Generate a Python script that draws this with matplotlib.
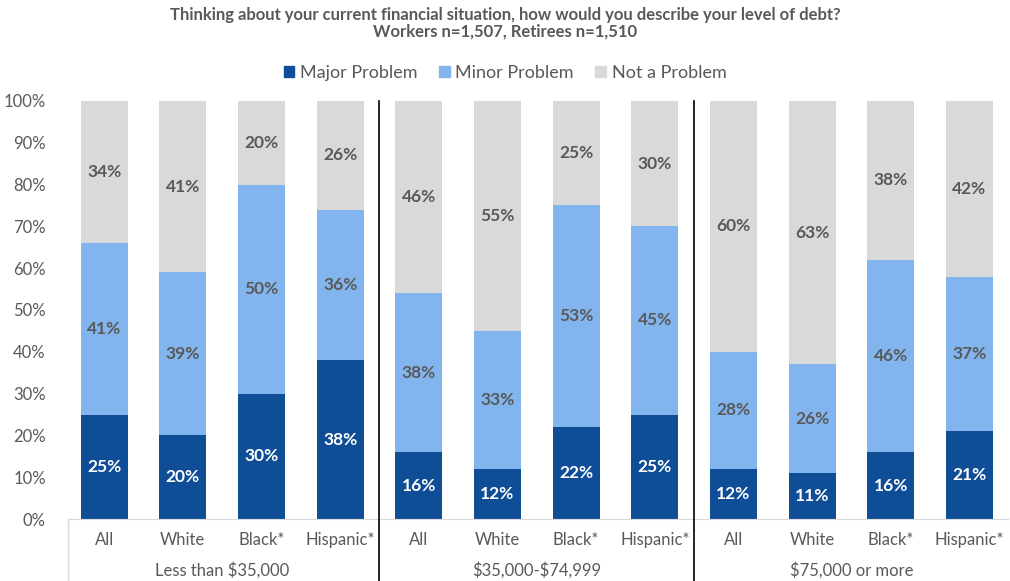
import matplotlib
matplotlib.use("Agg")
import matplotlib.pyplot as plt
import numpy as np
from matplotlib.patches import Patch
from matplotlib.transforms import blended_transform_factory

plt.rcParams["font.family"] = ["Lato", "DejaVu Sans"]
plt.rcParams["text.parse_math"] = False

groups = ["Less than $35,000", "$35,000-$74,999", "$75,000 or more"]
categories = ["All", "White", "Black*", "Hispanic*"] * 3
major = [25, 20, 30, 38, 16, 12, 22, 25, 12, 11, 16, 21]
minor = [41, 39, 50, 36, 38, 33, 53, 45, 28, 26, 46, 37]
not_problem = [34, 41, 20, 26, 46, 55, 25, 30, 60, 63, 38, 42]
series_names = ["Major Problem", "Minor Problem", "Not a Problem"]
colors = ["#0F4E96", "#82B5EE", "#D9D9D9"]
text_gray = "#595959"

fig = plt.figure(figsize=(10.1, 5.81), dpi=100)
W, H = 1010, 581
ax = fig.add_axes([68 / W, (H - 519) / H, (1008 - 68) / W, (519 - 101) / H])

x = np.arange(len(categories))
bottom = np.zeros(len(categories))
for vals, name, col in zip([major, minor, not_problem], series_names, colors):
    vals = np.array(vals, dtype=float)
    ax.bar(x, vals, 0.6, bottom=bottom, color=col, label=name, zorder=2)
    lab_col = "white" if col == colors[0] else text_gray
    for xi, b, v in zip(x, bottom, vals):
        ax.text(xi, b + v / 2, f"{int(v)}%", ha="center", va="center",
                fontsize=12.5, fontweight="bold", color=lab_col)
    bottom += vals

ax.set_xlim(-0.46, 11.49)
ax.set_ylim(0, 100)
ax.set_yticks(np.arange(0, 101, 10))
ax.set_yticklabels([f"{t}%" for t in range(0, 101, 10)], fontsize=12, color=text_gray)
ax.tick_params(axis="y", length=0, pad=16)
ax.set_xticks([])
for s in ["top", "right", "left"]:
    ax.spines[s].set_visible(False)
ax.spines["bottom"].set_color("#D9D9D9")

trans = blended_transform_factory(ax.transData, ax.transAxes)
for xi, c in zip(x, categories):
    ax.text(xi, -0.05, c, transform=trans, ha="center", va="center",
            fontsize=12, color=text_gray)
for gi, g in enumerate(groups):
    ax.text(gi * 4 + 1.5, -0.122, g, transform=trans, ha="center", va="center",
            fontsize=12, color=text_gray)

# group separators
for sep in [3.5, 7.5]:
    ax.plot([sep, sep], [1.0, -0.15], transform=trans, color="black", lw=1.2,
            clip_on=False, zorder=3)
ax.plot([-0.46, -0.46], [0, -0.15], transform=trans, color="#D9D9D9", lw=1,
        clip_on=False)

fig.text(0.5, 1 - 15 / H, "Thinking about your current financial situation, how would you describe your level of debt?",
         ha="center", va="center", fontsize=12, fontweight="bold", color=text_gray)
fig.text(0.5, 1 - 32 / H, "Workers n=1,507, Retirees n=1,510",
         ha="center", va="center", fontsize=12, fontweight="bold", color=text_gray)

handles = [Patch(color=c, label=n) for c, n in zip(colors, series_names)]
fig.legend(handles=handles, loc="center", bbox_to_anchor=(0.5, 1 - 73 / H), ncol=3,
           frameon=False, fontsize=13, handlelength=0.6, handleheight=0.6,
           handletextpad=0.3, columnspacing=1.2, labelcolor=text_gray)

fig.savefig("out.png", dpi=100)
